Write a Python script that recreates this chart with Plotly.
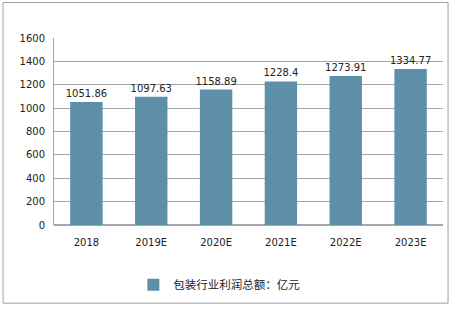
import plotly.graph_objects as go

categories = ["2018", "2019E", "2020E", "2021E", "2022E", "2023E"]
values = [1051.86, 1097.63, 1158.89, 1228.4, 1273.91, 1334.77]
series_name = "包装行业利润总额：亿元"
y_ticks = [0, 200, 400, 600, 800, 1000, 1200, 1400, 1600]

fig = go.Figure()
fig.add_trace(go.Bar(
    x=categories, y=values, name=series_name,
    marker=dict(color="#5D8FA8", line=dict(width=0)),
    text=[str(v) for v in values], textposition="outside",
    textfont=dict(size=10, color="#222222"),
    constraintext="none",
    cliponaxis=False,
))

fig.update_layout(
    width=454, height=311,
    margin=dict(l=54, r=11, t=38, b=84),
    paper_bgcolor="white", plot_bgcolor="white",
    font=dict(family="DejaVu Sans, Noto Sans CJK SC", size=10, color="#222222"),
    bargap=0.5,
    showlegend=True,
    legend=dict(orientation="h", x=0.425, xanchor="center", y=-0.32, yanchor="middle",
                font=dict(size=11.5, family="Noto Sans CJK SC"), itemwidth=30),
    xaxis=dict(showgrid=False, showline=False, ticks="", tickfont=dict(size=10),
               ticklabelstandoff=10),
    yaxis=dict(range=[0, 1600], tickvals=y_ticks, showgrid=True, gridcolor="#A6A6A6",
               gridwidth=1, showline=True, linecolor="#A6A6A6", ticks="", zeroline=True,
               zerolinecolor="#A6A6A6", tickfont=dict(size=10), ticklabelstandoff=6),
    shapes=[dict(type="rect", xref="paper", yref="paper",
                 x0=-0.131, x1=1.013, y0=-0.418, y1=1.19,
                 line=dict(color="#A0A0A0", width=1))],
)

fig.write_html("out.html")
